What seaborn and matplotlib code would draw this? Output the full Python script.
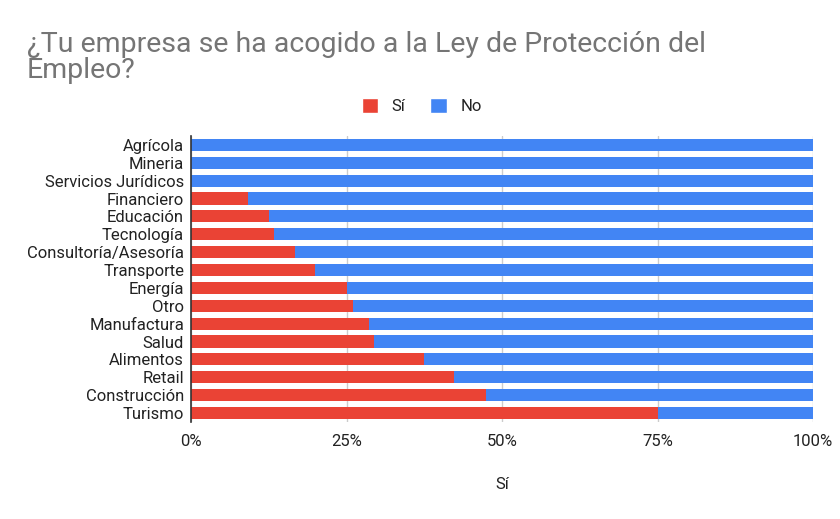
import matplotlib
matplotlib.use("Agg")
import matplotlib.pyplot as plt
import seaborn as sns
import pandas as pd
from matplotlib.patches import Patch
from matplotlib.ticker import FuncFormatter

categories = ["Agrícola", "Mineria", "Servicios Jurídicos", "Financiero", "Educación",
              "Tecnología", "Consultoría/Asesoría", "Transporte", "Energía", "Otro",
              "Manufactura", "Salud", "Alimentos", "Retail", "Construcción", "Turismo"]
si_pct = [0, 0, 0, 9.1, 12.5, 13.3, 16.7, 20.0, 25.0, 26.1, 28.6, 29.4, 37.5, 42.3, 47.4, 75.0]
no_pct = [100 - v for v in si_pct]
x_ticks = [0, 25, 50, 75, 100]

RED = "#EA4335"
BLUE = "#4285F4"

df = pd.DataFrame({"cat": categories, "si": si_pct, "no": no_pct})
df["total"] = df["si"] + df["no"]

sns.set_theme(style="white")
plt.rcParams["font.family"] = ["Roboto", "DejaVu Sans"]

fig = plt.figure(figsize=(8.4, 5.19), dpi=100)
ax = fig.add_axes([0.2274, 0.187, 0.7405, 0.551])

sns.barplot(data=df, y="cat", x="total", color=BLUE, orient="h", ax=ax, width=0.68,
            saturation=1, order=categories)
sns.barplot(data=df, y="cat", x="si", color=RED, orient="h", ax=ax, width=0.68,
            saturation=1, order=categories)
for p in ax.patches:
    p.set_linewidth(0)

ax.set_xlim(0, 100)
ax.set_xticks(x_ticks)
ax.xaxis.set_major_formatter(FuncFormatter(lambda v, _: f"{int(v)}%"))
ax.grid(axis="x", color="#cccccc", linewidth=1)
ax.set_axisbelow(True)
for s in ["top", "right", "bottom"]:
    ax.spines[s].set_visible(False)
ax.spines["left"].set_color("#333333")
ax.spines["left"].set_linewidth(1.2)
ax.tick_params(axis="both", length=0, labelsize=12, labelcolor="#222222")
ax.tick_params(axis="x", pad=9)
ax.tick_params(axis="y", pad=5)
ax.set_ylabel("")
ax.set_xlabel("Sí", fontsize=12, color="#222222", labelpad=20)

fig.text(0.032, 0.890, "¿Tu empresa se ha acogido a la Ley de Protección del\nEmpleo?",
         fontsize=20.5, color="#757575", ha="left", va="center", linespacing=0.95)

handles = [Patch(facecolor=RED, label="Sí"), Patch(facecolor=BLUE, label="No")]
fig.legend(handles=handles, loc="center", bbox_to_anchor=(0.502, 0.795), ncol=2, frameon=False,
           fontsize=12, handlelength=1.0, handleheight=1.0, columnspacing=1.5, handletextpad=0.8,
           labelcolor="#222222")

fig.savefig("out.png", dpi=100, facecolor="white")
